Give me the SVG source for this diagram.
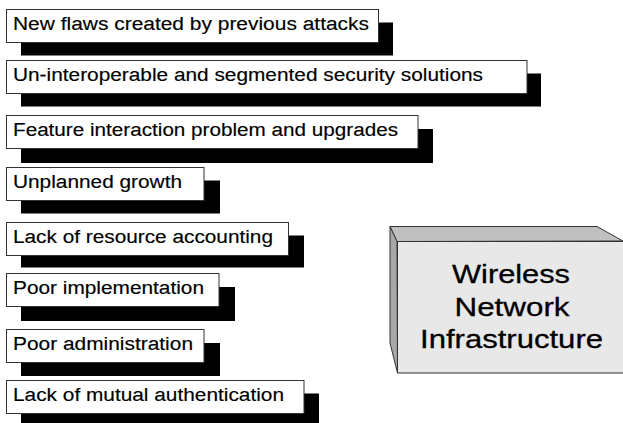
<svg xmlns="http://www.w3.org/2000/svg" width="623" height="423" viewBox="0 0 623 423">
  <style>
    .shadow { fill: #000; }
    .box { fill: #fff; stroke: #333; stroke-width: 1; }
    .lbl { font-family: "Liberation Sans", Arial, sans-serif; font-size: 18px; fill: #000; stroke: #000; stroke-width: 0.15; }
    .big { font-family: "Liberation Sans", Arial, sans-serif; font-size: 26px; fill: #000; stroke: #000; stroke-width: 0.3; text-anchor: middle; }
    .edge { stroke: #333; stroke-width: 1; stroke-linejoin: miter; }
  </style>
  <rect width="623" height="423" fill="#fff"/>

  <!-- Issue labels: white box over an offset black shadow -->
  <g id="flaws">
    <rect class="shadow" x="21" y="22.5" width="372" height="33"/>
    <rect class="box" x="6.5" y="9.5" width="372" height="33"/>
    <text class="lbl" x="13" y="30" textLength="356" lengthAdjust="spacingAndGlyphs">New flaws created by previous attacks</text>
  </g>
  <g id="segmented">
    <rect class="shadow" x="21" y="73.5" width="520" height="33"/>
    <rect class="box" x="6.5" y="60.5" width="520.5" height="33"/>
    <text class="lbl" x="13" y="81" textLength="470" lengthAdjust="spacingAndGlyphs">Un-interoperable and segmented security solutions</text>
  </g>
  <g id="feature">
    <rect class="shadow" x="21" y="129" width="412" height="34"/>
    <rect class="box" x="6.5" y="115.5" width="411.5" height="33"/>
    <text class="lbl" x="13" y="136" textLength="385" lengthAdjust="spacingAndGlyphs">Feature interaction problem and upgrades</text>
  </g>
  <g id="growth">
    <rect class="shadow" x="21" y="180.5" width="199" height="33"/>
    <rect class="box" x="6.5" y="167.5" width="197.5" height="33"/>
    <text class="lbl" x="13" y="188" textLength="169" lengthAdjust="spacingAndGlyphs">Unplanned growth</text>
  </g>
  <g id="accounting">
    <rect class="shadow" x="21" y="235.5" width="283" height="32"/>
    <rect class="box" x="6.5" y="222.5" width="282" height="33"/>
    <text class="lbl" x="13" y="243" textLength="260" lengthAdjust="spacingAndGlyphs">Lack of resource accounting</text>
  </g>
  <g id="implementation">
    <rect class="shadow" x="21" y="287" width="214" height="34"/>
    <rect class="box" x="6.5" y="273.5" width="212.5" height="33"/>
    <text class="lbl" x="13" y="294" textLength="191" lengthAdjust="spacingAndGlyphs">Poor implementation</text>
  </g>
  <g id="administration">
    <rect class="shadow" x="21" y="343" width="199" height="33"/>
    <rect class="box" x="6.5" y="329.5" width="197.5" height="33"/>
    <text class="lbl" x="13" y="350" textLength="180" lengthAdjust="spacingAndGlyphs">Poor administration</text>
  </g>
  <g id="authentication">
    <rect class="shadow" x="21" y="393.5" width="298" height="33"/>
    <rect class="box" x="6.5" y="380.5" width="297.5" height="33"/>
    <text class="lbl" x="13" y="401" textLength="271" lengthAdjust="spacingAndGlyphs">Lack of mutual authentication</text>
  </g>

  <!-- Infrastructure block drawn as a 3D box -->
  <g id="infrastructure">
    <polygon class="edge" fill="#c0c0c0" points="390,226.5 597,226.5 623,241 397,241.5"/>
    <polygon class="edge" fill="#a8a8a8" points="390,226.5 397,241.5 397.5,373 390,343"/>
    <rect class="edge" fill="#e8e8e8" x="397.5" y="241.5" width="226" height="131.5"/>
    <text class="big" x="511" y="283" textLength="118" lengthAdjust="spacingAndGlyphs">Wireless</text>
    <text class="big" x="512" y="316" textLength="115" lengthAdjust="spacingAndGlyphs">Network</text>
    <text class="big" x="511.5" y="348" textLength="183" lengthAdjust="spacingAndGlyphs">Infrastructure</text>
  </g>

  <!-- no connectors in this figure -->
  <g id="connectors"/>
</svg>
